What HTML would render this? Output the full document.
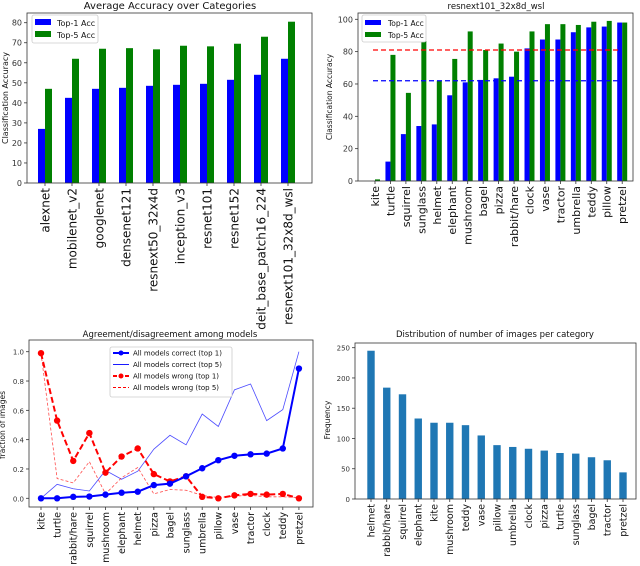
<!DOCTYPE html>
<html><head><meta charset="utf-8">
<style>
body{margin:0;background:#fff;}
svg{display:block;font-family:"DejaVu Sans","Liberation Sans",sans-serif;}
</style></head>
<body>
<svg id="fig" width="640" height="566" viewBox="0 0 640 566" xmlns="http://www.w3.org/2000/svg"></svg>
<script>
// Panel 1 data
const p1Models = ["alexnet","mobilenet_v2","googlenet","densenet121","resnext50_32x4d","inception_v3","resnet101","resnet152","deit_base_patch16_224","resnext101_32x8d_wsl"];
const p1Top1 = [27,42.5,47,47.5,48.5,49,49.5,51.5,54,62];
const p1Top5 = [47,62,67,67.3,66.7,68.5,68.2,69.5,73,80.5];
const p1Ticks = [0,10,20,30,40,50,60,70,80];
// Panel 2 data
const p2Cats = ["kite","turtle","squirrel","sunglass","helmet","elephant","mushroom","bagel","pizza","rabbit/hare","clock","vase","tractor","umbrella","teddy","pillow","pretzel"];
const p2Top1 = [0,12,29,34,35,53,61,62.5,63.5,64.5,82,87.5,87.5,92,95,95.5,98];
const p2Top5 = [1,78,54.5,86.5,62,75.5,92.5,81,85,80,92.5,97,97,96.5,98.5,99,98];
const p2MeanTop1 = 62, p2MeanTop5 = 81;
const p2Ticks = [0,20,40,60,80,100];
// Panel 3 data
const p3Cats = ["kite","turtle","rabbit/hare","squirrel","mushroom","elephant","helmet","pizza","bagel","sunglass","umbrella","pillow","vase","tractor","clock","teddy","pretzel"];
const p3Correct1 = [0,0,0.01,0.012,0.025,0.038,0.045,0.09,0.1,0.15,0.205,0.26,0.29,0.30,0.305,0.34,0.885];
const p3Correct5 = [0,0.095,0.065,0.05,0.19,0.13,0.185,0.335,0.43,0.365,0.575,0.49,0.74,0.78,0.53,0.605,1.0];
const p3Wrong1 = [0.99,0.53,0.255,0.445,0.175,0.285,0.34,0.165,0.115,0.15,0.01,0,0.02,0.03,0.025,0.03,0];
const p3Wrong5 = [0.99,0.135,0.105,0.25,0.03,0.14,0.21,0.03,0.06,0.055,0.02,0.005,0.015,0.02,0.01,0.01,0.005];
const p3Ticks = [0,0.2,0.4,0.6,0.8,1.0];
const p3TickLabels = ["0.0","0.2","0.4","0.6","0.8","1.0"];
// Panel 4 data
const p4Cats = ["helmet","rabbit/hare","squirrel","elephant","kite","mushroom","teddy","vase","pillow","umbrella","clock","pizza","turtle","sunglass","bagel","tractor","pretzel"];
const p4Counts = [245,184,173,133,126,126,122,105,89,86,83,80,76,75,69,64,44];
const p4Ticks = [0,50,100,150,200,250];

const NS="http://www.w3.org/2000/svg";
const svg=document.getElementById('fig');
function mk(tag,attrs,parent,text){const e=document.createElementNS(NS,tag);for(const k in attrs)e.setAttribute(k,attrs[k]);if(text!==undefined)e.textContent=text;(parent||svg).appendChild(e);return e;}
function group(name){const g=mk('g',{});return g;}
function lin(d0,d1,r0,r1){return v=>r0+(v-d0)*(r1-r0)/(d1-d0);}

function frame(g,x0,y0,x1,y1){const r=mk('rect',{x:x0,y:y0,width:x1-x0,height:y1-y0,fill:'none',stroke:'#333','stroke-width':0.8},g);}
function yAxis(g,ticks,labels,y,x0,fs){ticks.forEach((t,i)=>{mk('line',{x1:x0-3,x2:x0,y1:y(t),y2:y(t),stroke:'#333','stroke-width':0.8},g);const tx=mk('text',{x:x0-5,y:y(t)+3,'font-size':fs,'text-anchor':'end',fill:'#333'},g,labels?labels[i]:String(t));});}
function xLabels(g,cats,x,yb,fs){cats.forEach((c,i)=>{const xx=x(i);mk('line',{x1:xx,x2:xx,y1:yb,y2:yb+3,stroke:'#333','stroke-width':0.8},g);const t=mk('text',{transform:`translate(${xx+fs*0.36},${yb+5}) rotate(-90)`,'font-size':fs,'text-anchor':'end',fill:'#111'},g,c);});}
function title(g,x,y,txt,fs){const t=mk('text',{x:x,y:y,'font-size':fs,'text-anchor':'middle',fill:'#111'},g,txt);}
function ytitle(g,x,y,txt,fs){const t=mk('text',{transform:`translate(${x},${y}) rotate(-90)`,'font-size':fs,'text-anchor':'middle',fill:'#111'},g,txt);}

// ---- Panel 1
{const g=group('accuracy-by-model-chart');
const X0=27,X1=312,Y0=13,Y1=183;
const y=lin(0,80,Y1,22.7);const x=i=>45+i*27;
p1Top1.forEach((v,i)=>{const r=mk('rect',{x:x(i)-7,y:y(v),width:7,height:Y1-y(v),fill:'#0000ff'},g);});
p1Top5.forEach((v,i)=>{const r=mk('rect',{x:x(i),y:y(v),width:7,height:Y1-y(v),fill:'#008000'},g);});
frame(g,X0,Y0,X1,Y1);yAxis(g,p1Ticks,null,y,X0,8);xLabels(g,p1Models,x,Y1,12);
title(g,170,9,'Average Accuracy over Categories',10);ytitle(g,8,98,'Classification Accuracy',8);
const L=group('legend');g.appendChild(L);mk('rect',{x:32,y:15,width:66,height:28,fill:'#fff',stroke:'#ccc','stroke-width':0.8,rx:2},L);
mk('rect',{x:35,y:19,width:16,height:6,fill:'#0000ff'},L);mk('text',{x:57,y:26,'font-size':8,fill:'#111'},L,'Top-1 Acc');
mk('rect',{x:35,y:31,width:16,height:6,fill:'#008000'},L);mk('text',{x:57,y:38,'font-size':8,fill:'#111'},L,'Top-5 Acc');}

// ---- Panel 2
{const g=group('resnext-per-category-chart');
const X0=358,X1=633,Y0=13,Y1=181;
const y=lin(0,100,Y1,19.3);const x=i=>375+i*15.45;
p2Top1.forEach((v,i)=>{const r=mk('rect',{x:x(i)-5,y:y(v),width:5,height:Y1-y(v),fill:'#0000ff'},g);});
p2Top5.forEach((v,i)=>{const r=mk('rect',{x:x(i),y:y(v),width:5,height:Y1-y(v),fill:'#008000'},g);});
const m5=mk('line',{x1:373,x2:620,y1:y(p2MeanTop5),y2:y(p2MeanTop5),stroke:'#ff0000','stroke-width':1.3,'stroke-dasharray':'5,3'},g);
const m1=mk('line',{x1:373,x2:620,y1:y(p2MeanTop1),y2:y(p2MeanTop1),stroke:'#0000ff','stroke-width':1.3,'stroke-dasharray':'5,3'},g);
frame(g,X0,Y0,X1,Y1);yAxis(g,p2Ticks,null,y,X0,8);xLabels(g,p2Cats,x,Y1,11);
title(g,496,9,'resnext101_32x8d_wsl',8.5);ytitle(g,332,97,'Classification Accuracy',7.5);
const L=group('legend');g.appendChild(L);mk('rect',{x:362,y:15,width:64,height:27,fill:'#fff',stroke:'#ccc','stroke-width':0.8,rx:2},L);
mk('rect',{x:365,y:20,width:16,height:5,fill:'#0000ff'},L);mk('text',{x:388,y:26,'font-size':7.5,fill:'#111'},L,'Top-1 Acc');
mk('rect',{x:365,y:32,width:16,height:5,fill:'#008000'},L);mk('text',{x:388,y:38,'font-size':7.5,fill:'#111'},L,'Top-5 Acc');}

// ---- Panel 3
{const g=group('agreement-chart');
const X0=29,X1=313,Y0=340,Y1=507;
const y=lin(0,1,498.3,351.7);const x=i=>41+i*16.12;
function line(vals,color,w,dash,name,dots){const pts=vals.map((v,i)=>x(i)+','+y(v)).join(' ');const p=mk('polyline',{points:pts,fill:'none',stroke:color,'stroke-width':w,'stroke-dasharray':dash||'none','stroke-opacity':dots?1:0.7},g);
 if(dots)vals.forEach((v,i)=>{const c=mk('circle',{cx:x(i),cy:y(v),r:3.2,fill:color},g);});}
line(p3Correct5,'#0000ff',0.8,null,'correct-top5-line',false);
line(p3Wrong5,'#ff0000',0.8,'3,2','wrong-top5-line',false);
line(p3Wrong1,'#ff0000',2,'6,3','wrong-top1-line',true);
line(p3Correct1,'#0000ff',2,null,'correct-top1-line',true);
frame(g,X0,Y0,X1,Y1);yAxis(g,p3Ticks,p3TickLabels,y,X0,7);xLabels(g,p3Cats,x,Y1,9.5);
title(g,170,337,'Agreement/disagreement among models',8.5);ytitle(g,5,425,'fraction of images',7.5);
const L=group('legend');g.appendChild(L);mk('rect',{x:110,y:347,width:122,height:50,fill:'#fff',stroke:'#ccc','stroke-width':0.8,rx:2},L);
const ent=[['All models correct (top 1)','#0000ff',2,null,true],['All models correct (top 5)','#0000ff',0.9,null,false],['All models wrong (top 1)','#ff0000',2,'4,2',true],['All models wrong (top 5)','#ff0000',0.9,'3,2',false]];
ent.forEach((e,i)=>{const yy=353+i*11.5;mk('line',{x1:113,x2:129,y1:yy,y2:yy,stroke:e[1],'stroke-width':e[2],'stroke-dasharray':e[3]||'none'},L);if(e[4])mk('circle',{cx:121,cy:yy,r:2.5,fill:e[1]},L);mk('text',{x:133,y:yy+2.5,'font-size':7,fill:'#111'},L,e[0]);});}

// ---- Panel 4
{const g=group('images-per-category-chart');
const X0=355,X1=636,Y0=343,Y1=499;
const y=lin(0,250,Y1,347.7);const x=i=>371+i*15.75;
p4Counts.forEach((v,i)=>{const r=mk('rect',{x:x(i)-3.7,y:y(v),width:7.4,height:Y1-y(v),fill:'#1f77b4'},g);});
frame(g,X0,Y0,X1,Y1);yAxis(g,p4Ticks,null,y,X0,7);xLabels(g,p4Cats,x,Y1,9.5);
title(g,495,337,'Distribution of number of images per category',8.5);ytitle(g,330,420,'Frequency',7.5);}
</script>
</body></html>
